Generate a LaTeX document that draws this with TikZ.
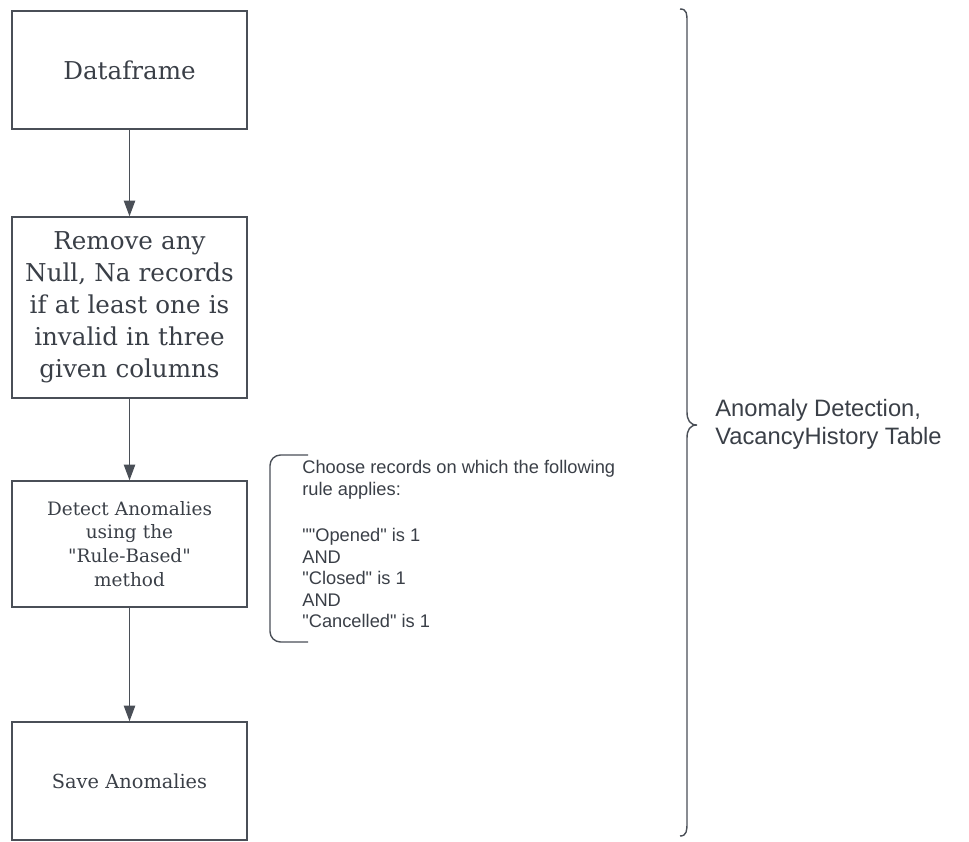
\documentclass[tikz,border=0pt]{standalone}
\usepackage{fontspec}
\setmainfont{DejaVu Serif}[Ligatures=TeXOff]
\setsansfont{Liberation Sans}[Ligatures=TeXOff]
\usepackage{tikz}
\usetikzlibrary{arrows.meta}
\definecolor{linegray}{HTML}{4A4F57}
\definecolor{textgray}{HTML}{3A3F47}
\tikzstyle{process} = [rectangle,
minimum width=4.7cm,
text width=4.2cm,
align=center,
draw=linegray,
thick,
text=textgray]
\tikzstyle{note} = [align=left, text=textgray, font=\sffamily\fontsize{10.4}{12.2}\selectfont, anchor=north west, inner sep=0pt]
\tikzstyle{arrow} = [thick, draw=linegray, -{Triangle[length=9pt,width=6.5pt]}]

\begin{document}
\begin{tikzpicture}[x=0.02cm,y=-0.02cm]
\useasboundingbox (0,0) rectangle (969,841);

\node (df) [process, minimum height=2.36cm, font=\fontsize{14}{18}\selectfont] at (129.5,70) {Dataframe};
\node (clean) [process, minimum height=3.62cm, font=\fontsize{14}{18.2}\selectfont] at (129.5,307.5) {Remove any Null, Na records if at least one is invalid in three given columns};
\node (detect) [process, minimum height=2.52cm, font=\fontsize{10.5}{13.6}\selectfont] at (129.5,544) {Detect Anomalies\\ using the\\ "Rule-Based"\\ method};
\node (save) [process, minimum height=2.36cm, font=\fontsize{11}{13.6}\selectfont] at (129.5,781) {Save Anomalies};

\draw [arrow] (df) -- (clean);
\draw [arrow] (clean) -- (detect);
\draw [arrow] (detect) -- (save);

% rule note with its bracket
\node (rule) [note] at (302,460) {Choose records on which the following\\ rule applies:\\[14.5pt] ""Opened" is 1\\ AND\\ "Closed" is 1\\ AND\\ "Cancelled" is 1};
\draw [thick, draw=linegray, rounded corners=6pt] (308,455) -- (270,455) -- (270,642) -- (308,642);

% big brace
\draw [thick, draw=linegray] (680,9) .. controls (687,9) and (687,14) .. (687,22)
  -- (687,412) .. controls (687,420) and (690,425) .. (697,425)
  .. controls (690,425) and (687,430) .. (687,438)
  -- (687,822) .. controls (687,830) and (687,836) .. (680,836);
\node (title) [anchor=west, align=left, text=textgray, inner sep=0pt, font=\sffamily\fontsize{13.5}{16}\selectfont] at (715,424) {Anomaly Detection,\\ VacancyHistory Table};

\end{tikzpicture}
\end{document}
